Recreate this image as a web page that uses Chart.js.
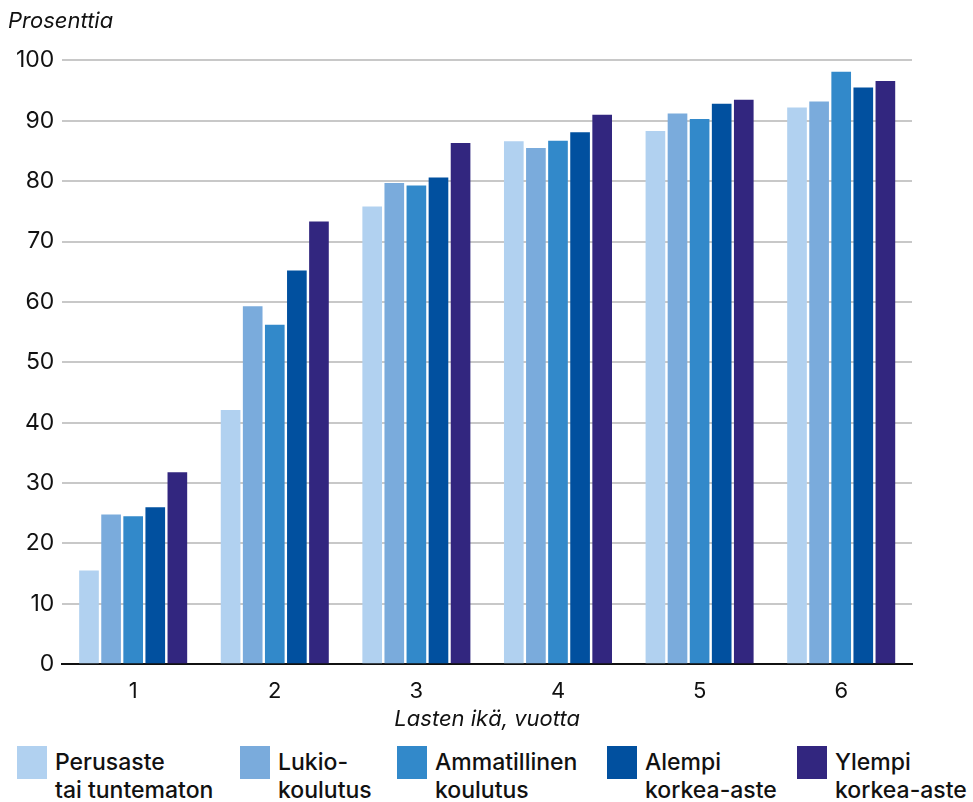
<!DOCTYPE html>
<html>
<head>
<meta charset="utf-8">
<script src="https://cdn.jsdelivr.net/npm/chart.js@4"></script>
<style>
  body { margin: 0; background: #fff; font-family: Inter, Roboto, "Liberation Sans", sans-serif; }
  #wrap { position: relative; width: 973px; height: 802px; overflow: hidden; }
  #box { position: absolute; left: 0; top: 0; width: 973px; height: 735px; }
  .leg { position: absolute; top: 746px; }
  .sw { position: absolute; left: 0; top: 0; width: 30px; height: 33px; }
  .lt { position: absolute; left: 38px; top: 2px; font-size: 23px; font-weight: 500; line-height: 28px; color: #111; white-space: nowrap; }
</style>
</head>
<body>
<div id="wrap">
  <div id="box"><canvas id="myChart"></canvas></div>
  <div id="legend"></div>
</div>
<script>
let ages = ["1", "2", "3", "4", "5", "6"];
let perusaste = [15.5, 42.1, 75.8, 86.6, 88.3, 92.2];
let lukio = [24.8, 59.3, 79.7, 85.5, 91.2, 93.2];
let ammatillinen = [24.5, 56.2, 79.3, 86.7, 90.3, 98.1];
let alempi = [26.0, 65.2, 80.6, 88.1, 92.8, 95.5];
let ylempi = [31.8, 73.3, 86.3, 91.0, 93.5, 96.6];
let yTicks = [0, 10, 20, 30, 40, 50, 60, 70, 80, 90, 100];

let names = [
    ["Perusaste", "tai tuntematon"],
    ["Lukio-", "koulutus"],
    ["Ammatillinen", "koulutus"],
    ["Alempi", "korkea-aste"],
    ["Ylempi", "korkea-aste"]
];
let colors = ["#b1d1f0", "#7aabdc", "#3289ca", "#01509f", "#32267f"];
let series = [perusaste, lukio, ammatillinen, alempi, ylempi];
let legendX = [17, 240, 397, 607, 797];

let sets = [];
for (let i = 0; i < series.length; i++) {
    sets.push({
        label: names[i].join(" "),
        data: series[i],
        backgroundColor: colors[i],
        categoryPercentage: 0.78,
        barPercentage: 0.89
    });
}

new Chart("myChart", {
    type: "bar",
    data: { labels: ages, datasets: sets },
    options: {
        responsive: true,
        maintainAspectRatio: false,
        animation: false,
        layout: { padding: { left: 8, right: 61, top: 8, bottom: 2 } },
        plugins: {
            legend: { display: false },
            tooltip: { enabled: false },
            title: {
                display: true,
                text: "Prosenttia",
                align: "start",
                color: "#111",
                font: { family: "Inter", size: 22, style: "italic", weight: "normal" },
                padding: { top: 0, bottom: 26 }
            }
        },
        scales: {
            x: {
                grid: { display: false, drawTicks: false },
                border: { color: "#111", width: 2 },
                ticks: { color: "#111", font: { family: "Inter", size: 22 }, padding: 14 },
                title: {
                    display: true,
                    text: "Lasten ikä, vuotta",
                    color: "#111",
                    font: { family: "Inter", size: 22, style: "italic" },
                    padding: { top: -12, bottom: 0 }
                }
            },
            y: {
                min: 0,
                max: 100,
                afterBuildTicks: function (axis) {
                    axis.ticks = yTicks.map(function (v) { return { value: v }; });
                },
                grid: { color: "#c8c8c8", lineWidth: 2, drawTicks: false },
                border: { display: false },
                ticks: { color: "#111", font: { family: "Inter", size: 23 }, padding: 8 }
            }
        }
    }
});

let legend = document.getElementById("legend");
for (let i = 0; i < names.length; i++) {
    let item = document.createElement("div");
    item.className = "leg";
    item.style.left = legendX[i] + "px";
    item.innerHTML = '<div class="sw" style="background:' + colors[i] + '"></div>' +
        '<div class="lt">' + names[i][0] + '<br>' + names[i][1] + '</div>';
    legend.appendChild(item);
}
</script>
</body>
</html>
